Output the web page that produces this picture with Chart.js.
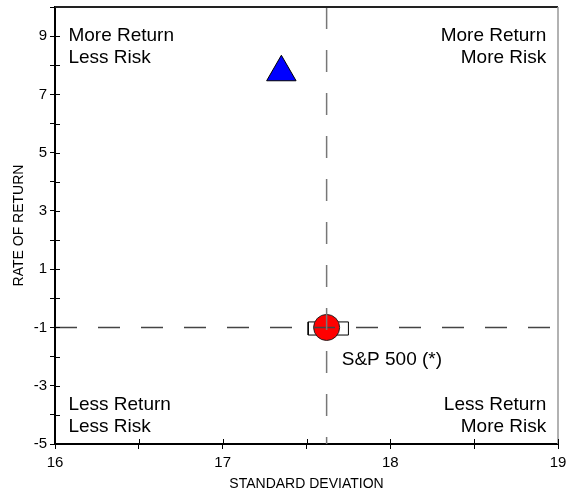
<!DOCTYPE html>
<html>
<head>
<meta charset="utf-8">
<script src="https://cdn.jsdelivr.net/npm/chart.js@4"></script>
<style>
  body { margin: 0; background: #fff; }
  #wrap { width: 567px; height: 494px; position: relative; }
</style>
</head>
<body>
<div id="wrap"><canvas id="riskChart"></canvas></div>
<script>
// fund (triangle) and benchmark (circle)
const fundPoint = { x: 17.35, y: 7.76 };
const spPoint = { x: 17.62, y: -1.0 };
const spLabel = "S&P 500 (*)";
const spLabelPos = { x: 17.71, y: -2.11 };
// box around the benchmark
const boxX = [17.51, 17.75];
const boxY = [-1.26, -0.81];
// axis ranges
const xRange = [16, 19];
const yRange = [-5, 10];
// quadrant labels
const quadText = [
  { lines: ["More Return", "Less Risk"], x: 16.08, y: [9.02, 8.27], align: "left" },
  { lines: ["More Return", "More Risk"], x: 18.93, y: [9.02, 8.27], align: "right" },
  { lines: ["Less Return", "Less Risk"], x: 16.08, y: [-3.65, -4.41], align: "left" },
  { lines: ["Less Return", "More Risk"], x: 18.93, y: [-3.65, -4.41], align: "right" }
];

Chart.defaults.font.family = "'Liberation Sans', Arial, sans-serif";
Chart.defaults.color = "#000";

const textPlugin = {
  id: 'textPlugin',
  afterDraw(chart) {
    const ctx = chart.ctx, xs = chart.scales.x, ys = chart.scales.y, ca = chart.chartArea;
    ctx.save();
    // top and right frame
    ctx.strokeStyle = '#222';
    ctx.lineWidth = 2;
    ctx.beginPath();
    ctx.moveTo(ca.left, ca.top);
    ctx.lineTo(ca.right, ca.top);
    ctx.stroke();
    ctx.strokeStyle = '#999';
    ctx.lineWidth = 1.5;
    ctx.beginPath();
    ctx.moveTo(ca.right, ca.top);
    ctx.lineTo(ca.right, ca.bottom);
    ctx.stroke();
    // inner half of tick marks
    ctx.strokeStyle = '#000';
    ctx.lineWidth = 1;
    ys.ticks.forEach(t => {
      if (t.value >= yRange[1]) return;
      const py = Math.round(ys.getPixelForValue(t.value)) + 0.5;
      ctx.beginPath(); ctx.moveTo(ca.left, py); ctx.lineTo(ca.left + 5, py); ctx.stroke();
    });
    xs.ticks.forEach(t => {
      const px = Math.round(xs.getPixelForValue(t.value)) + 0.5;
      ctx.beginPath(); ctx.moveTo(px, ca.bottom); ctx.lineTo(px, ca.bottom - 5); ctx.stroke();
    });
    // quadrant labels
    ctx.fillStyle = '#000';
    ctx.font = "19px 'Liberation Sans', Arial, sans-serif";
    ctx.textBaseline = 'middle';
    quadText.forEach(q => {
      ctx.textAlign = q.align;
      q.lines.forEach((s, i) => {
        ctx.fillText(s, xs.getPixelForValue(q.x), ys.getPixelForValue(q.y[i]));
      });
    });
    ctx.textAlign = 'left';
    ctx.fillText(spLabel, xs.getPixelForValue(spLabelPos.x), ys.getPixelForValue(spLabelPos.y));
    ctx.restore();
  }
};

new Chart(document.getElementById("riskChart"), {
  type: 'scatter',
  data: {
    datasets: [
      {
        label: 'vline',
        type: 'line',
        data: [{ x: spPoint.x, y: yRange[1] }, { x: spPoint.x, y: yRange[0] }],
        borderColor: '#777',
        borderWidth: 1.5,
        borderDash: [22, 21],
        pointRadius: 0,
        fill: false,
        order: 0
      },
      {
        label: 'hline',
        type: 'line',
        data: [{ x: xRange[0], y: spPoint.y }, { x: xRange[1], y: spPoint.y }],
        borderColor: '#444',
        borderWidth: 1.5,
        borderDash: [22, 21],
        pointRadius: 0,
        fill: false,
        order: 0
      },
      {
        label: 'Fund',
        data: [fundPoint],
        pointStyle: 'triangle',
        pointRadius: 17,
        pointHoverRadius: 17,
        backgroundColor: '#0000ff',
        borderColor: '#000',
        borderWidth: 1,
        order: 1
      },
      {
        label: 'S&P 500',
        data: [spPoint],
        pointStyle: 'circle',
        pointRadius: 13,
        pointHoverRadius: 13,
        backgroundColor: '#ff0000',
        borderColor: '#222',
        borderWidth: 1,
        order: 1
      },
      {
        label: 'box',
        type: 'line',
        data: [
          { x: boxX[0], y: boxY[0] }, { x: boxX[1], y: boxY[0] },
          { x: boxX[1], y: boxY[1] }, { x: boxX[0], y: boxY[1] },
          { x: boxX[0], y: boxY[0] }
        ],
        borderColor: '#000',
        borderWidth: 1,
        backgroundColor: '#fff',
        fill: 'shape',
        pointRadius: 0,
        order: 2
      }
    ]
  },
  options: {
    responsive: true,
    maintainAspectRatio: false,
    animation: false,
    layout: { autoPadding: false, padding: { top: 7, right: 9, left: 0, bottom: 0 } },
    plugins: {
      legend: { display: false },
      tooltip: { enabled: false }
    },
    scales: {
      x: {
        type: 'linear',
        min: xRange[0],
        max: xRange[1],
        afterFit(scale) { scale.height = 50; scale.paddingLeft = 0; scale.paddingRight = 0; },
        border: { color: '#000', width: 2 },
        grid: { display: true, drawOnChartArea: false, drawTicks: true, tickLength: 5, color: '#000' },
        ticks: {
          stepSize: 0.5,
          padding: 5,
          maxRotation: 0,
          autoSkip: false,
          font: { size: 15 },
          callback: v => (v % 1 === 0 ? v : '')
        },
        title: {
          display: true,
          text: 'STANDARD DEVIATION',
          font: { size: 14 },
          padding: { top: 0, bottom: 1 }
        }
      },
      y: {
        type: 'linear',
        min: yRange[0],
        max: yRange[1],
        afterFit(scale) { scale.width = 55; scale.paddingTop = 0; scale.paddingBottom = 0; },
        border: { color: '#000', width: 2 },
        grid: { display: true, drawOnChartArea: false, drawTicks: true, tickLength: 5, color: '#000' },
        ticks: {
          stepSize: 1,
          padding: 3,
          autoSkip: false,
          font: { size: 15 },
          callback: v => (Math.abs(v % 2) === 1 && v < yRange[1] ? v : '')
        },
        title: {
          display: true,
          text: 'RATE OF RETURN',
          font: { size: 14 },
          padding: { top: 11, bottom: 0 }
        }
      }
    }
  },
  plugins: [textPlugin]
});
</script>
</body>
</html>
